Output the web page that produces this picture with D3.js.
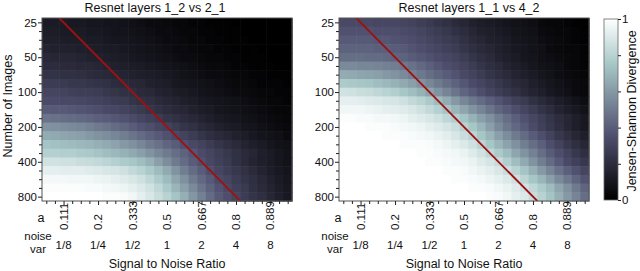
<!DOCTYPE html>
<html>
<head>
<meta charset="utf-8">
<script src="https://cdn.jsdelivr.net/npm/d3@7"></script>
<style>
  body { margin: 0; background: #fff; }
  text { font-family: "Liberation Sans", Arial, sans-serif; fill: #111; }
</style>
</head>
<body>
<svg id="chart" width="640" height="271"></svg>
<script>
// rows: number of images, columns: noise variance (quarter-octave steps)
const images = [25, 29.73, 35.36, 42.04, 50, 59.46, 70.71, 84.09, 100, 118.9, 141.4, 168.2,
                200, 237.8, 282.8, 336.4, 400, 475.7, 565.7, 672.7, 800];
const noiseVar = [0.0884, 0.1051, 0.125, 0.1487, 0.1768, 0.2102, 0.25, 0.2973, 0.3536, 0.4204,
                  0.5, 0.5946, 0.7071, 0.8409, 1, 1.189, 1.414, 1.682, 2, 2.378, 2.828, 3.364,
                  4, 4.757, 5.657, 6.727, 8, 9.514, 11.31];
const yTickVals = [25, 50, 100, 200, 400, 800];
const xTickVals = [0.125, 0.25, 0.5, 1, 2, 4, 8];
const aLabels = ["0.111", "0.2", "0.333", "0.5", "0.667", "0.8", "0.889"];
const noiseLabels = ["1/8", "1/4", "1/2", "1", "2", "4", "8"];
const titles = ["Resnet layers 1_2 vs 2_1", "Resnet layers 1_1 vs 4_2"];
// reference line end points (noise var, images)
const refLine = [[0.125, 25], [4, 800]];

// Jensen-Shannon divergence, in hundredths
const jsLeft = [
  [12,12,12,11,11,10,10,9,9,8,7,6,5,5,4,3,3,2,2,1,1,1,0,0,0,0,0,0,0],
  [13,13,12,12,12,11,11,10,9,9,8,7,6,5,5,4,3,3,2,2,1,1,1,0,0,0,0,0,0],
  [14,14,13,13,13,12,12,11,10,10,9,8,7,6,5,5,4,3,3,2,2,1,1,1,0,0,0,0,0],
  [16,15,15,15,14,14,13,12,12,11,10,9,8,7,6,5,5,4,3,3,2,2,1,1,1,0,0,0,0],
  [18,17,17,17,16,15,15,14,13,12,11,10,9,8,7,6,5,5,4,3,3,2,2,1,1,1,0,0,0],
  [20,20,19,19,18,18,17,16,15,14,13,12,11,10,9,8,7,6,5,4,4,3,2,2,1,1,1,0,0],
  [23,23,22,22,21,20,19,18,17,16,15,14,13,12,11,10,8,7,6,5,5,4,3,3,2,2,1,1,1],
  [27,27,26,25,25,24,23,22,20,19,18,17,15,14,13,11,10,9,8,7,6,5,4,4,3,2,2,2,1],
  [31,31,30,29,28,28,27,25,24,22,21,19,18,16,15,13,12,11,9,8,7,6,5,5,4,3,3,2,2],
  [34,34,33,33,32,31,30,29,27,26,24,22,21,19,17,16,14,13,11,10,9,8,7,6,5,4,3,3,2],
  [40,39,39,38,37,36,35,33,32,30,28,26,24,22,20,18,17,15,13,12,10,9,8,7,6,5,4,3,3],
  [48,47,46,45,44,43,41,40,38,36,34,31,29,27,24,22,20,18,16,14,12,11,10,8,7,6,5,4,3],
  [58,57,56,55,54,52,50,48,45,43,40,37,35,32,30,27,24,22,19,17,15,13,12,10,9,7,6,5,4],
  [66,65,64,63,62,60,58,56,54,51,48,45,42,39,36,33,30,27,24,21,19,17,15,13,11,9,8,7,5],
  [74,73,72,71,70,69,67,65,63,60,57,54,50,47,43,40,36,33,30,27,24,21,19,16,14,12,10,8,7],
  [79,79,78,78,77,76,74,72,70,68,65,62,58,54,50,46,42,38,34,31,28,25,22,19,17,14,12,10,8],
  [87,87,86,86,85,84,83,81,79,77,75,72,68,62,56,50,45,40,36,32,29,26,22,19,16,14,12,10,8],
  [93,93,92,92,92,91,90,89,88,86,83,80,76,71,65,58,51,45,40,35,31,28,25,22,19,16,13,11,9],
  [97,97,97,96,96,96,95,94,93,91,89,86,82,77,71,64,57,50,44,39,34,31,27,24,21,18,15,12,10],
  [99,99,99,99,99,98,98,97,96,95,93,90,87,82,76,69,62,55,48,42,37,33,29,26,22,19,16,13,11],
  [100,100,100,100,100,100,100,99,99,98,96,93,89,85,80,74,67,59,52,45,39,35,31,27,24,21,17,14,11]
];
const jsRight = [
  [33,33,33,33,32,32,32,31,30,28,26,24,22,19,17,15,13,12,11,9,8,7,6,4,3,3,2,1,1],
  [36,36,36,36,35,35,35,34,33,31,29,27,25,22,20,17,15,14,12,11,9,8,7,5,4,3,3,2,1],
  [39,39,39,39,38,38,37,36,35,33,31,29,27,25,22,19,17,15,14,12,10,9,8,6,5,4,3,2,1],
  [42,42,42,42,41,41,40,39,37,35,33,31,29,27,24,21,19,17,15,13,11,10,8,7,5,4,3,3,2],
  [46,46,46,45,45,44,43,42,40,38,36,34,32,30,27,24,21,19,16,14,12,10,9,7,6,5,4,3,2],
  [55,55,54,54,53,52,51,49,47,44,41,38,35,33,30,27,24,21,19,16,14,12,10,8,7,6,4,3,2],
  [66,65,64,63,62,60,58,55,52,49,46,43,40,37,33,30,27,24,21,19,16,14,12,10,8,6,5,4,3],
  [77,76,75,74,72,70,68,65,62,58,54,50,46,42,38,34,31,28,25,22,19,17,14,12,10,8,6,5,4],
  [87,86,85,84,82,80,78,75,72,68,63,58,53,48,43,39,35,31,28,25,22,19,16,14,11,9,7,5,4],
  [93,93,92,91,90,89,88,86,83,80,76,71,66,60,54,49,45,41,37,33,29,26,22,19,16,13,11,8,6],
  [96,96,96,95,94,93,92,91,89,86,83,79,74,69,64,58,53,48,43,39,35,31,27,23,20,16,13,11,8],
  [99,99,98,98,97,97,96,95,93,91,89,86,82,78,74,68,62,57,51,46,41,36,32,28,24,20,17,14,11],
  [100,100,100,99,99,99,98,97,96,95,93,91,88,85,80,75,69,62,55,49,44,39,34,29,25,21,17,14,11],
  [100,100,100,100,100,99,99,99,98,97,96,94,92,89,85,81,75,69,62,56,50,45,40,35,30,25,21,17,14],
  [100,100,100,100,100,100,100,99,99,99,98,97,95,93,90,86,81,75,69,63,57,51,46,41,35,30,25,21,17],
  [100,100,100,100,100,100,100,100,100,99,99,98,97,96,94,91,87,82,77,71,64,58,52,46,40,35,30,25,21],
  [100,100,100,100,100,100,100,100,100,100,99,99,98,97,96,94,91,88,84,78,72,65,58,51,45,39,33,29,25],
  [100,100,100,100,100,100,100,100,100,100,100,100,99,99,98,96,94,92,89,85,80,74,67,60,53,47,41,36,31],
  [100,100,100,100,100,100,100,100,100,100,100,100,100,99,99,98,97,95,93,90,86,81,75,69,62,55,49,43,37],
  [100,100,100,100,100,100,100,100,100,100,100,100,100,100,100,99,99,98,96,94,91,87,82,77,71,64,57,50,43],
  [100,100,100,100,100,100,100,100,100,100,100,100,100,100,100,100,100,99,98,96,93,90,85,80,74,67,60,53,46]
];

// matplotlib "bone"
const bone = d3.scaleLinear()
    .domain([0, 0.365079, 0.746032, 1])
    .range(["rgb(0,0,0)", "rgb(81,81,113)", "rgb(166,198,198)", "rgb(255,255,255)"]);

const svg = d3.select("#chart");
const half = Math.pow(2, 0.125);
const plotTop = 18, plotBottom = 201, plotW = 250;

const yScale = d3.scaleLog().base(2)
    .domain([images[0] / half, images[images.length - 1] * half])
    .range([plotTop, plotBottom]);

const panels = [
    { x0: 42, data: jsLeft, title: titles[0], titleX: 155 },
    { x0: 339, data: jsRight, title: titles[1], titleX: 469 }
];

panels.forEach((p, pi) => {
    const xScale = d3.scaleLog().base(2)
        .domain([noiseVar[0] / half, noiseVar[noiseVar.length - 1] * half])
        .range([p.x0, p.x0 + plotW]);

    const g = svg.append("g");

    const cells = [];
    p.data.forEach((row, ri) => row.forEach((v, ci) => cells.push({ r: ri, c: ci, v: v / 100 })));

    g.selectAll("rect.cell")
        .data(cells)
        .join("rect")
        .attr("class", "cell")
        .attr("x", d => xScale(noiseVar[d.c] / half))
        .attr("y", d => yScale(images[d.r] / half))
        .attr("width", d => xScale(noiseVar[d.c] * half) - xScale(noiseVar[d.c] / half) + 0.6)
        .attr("height", d => yScale(images[d.r] * half) - yScale(images[d.r] / half) + 0.6)
        .attr("fill", d => bone(d.v));

    // reference line, clipped to the plot
    svg.append("clipPath").attr("id", "clip" + pi)
        .append("rect")
        .attr("x", p.x0).attr("y", plotTop).attr("width", plotW).attr("height", plotBottom - plotTop);

    const n0 = images[0] / half, n1 = images[images.length - 1] * half;
    const k = refLine[0][0] / refLine[0][1];
    g.append("line")
        .attr("clip-path", `url(#clip${pi})`)
        .attr("x1", xScale(k * n0)).attr("y1", yScale(n0))
        .attr("x2", xScale(k * n1)).attr("y2", yScale(n1))
        .attr("stroke", "#a01010")
        .attr("stroke-width", 1.8);

    g.append("rect")
        .attr("x", p.x0).attr("y", plotTop)
        .attr("width", plotW).attr("height", plotBottom - plotTop)
        .attr("fill", "none")
        .attr("stroke", "#555")
        .attr("stroke-width", 1);

    // y axis
    const yAxis = g.append("g")
        .attr("transform", `translate(${p.x0},0)`)
        .call(d3.axisLeft(yScale)
            .tickValues(images)
            .tickFormat(d => yTickVals.includes(d) ? d : "")
            .tickSize(3)
            .tickSizeOuter(0));
    yAxis.select(".domain").remove();
    yAxis.selectAll(".tick line")
        .attr("x2", d => yTickVals.includes(d) ? -4 : -3)
        .attr("stroke", "#222");
    yAxis.selectAll(".tick text")
        .attr("x", -5)
        .style("font-size", "11.5px")
        .style("font-family", "'Liberation Sans', Arial, sans-serif");

    // x axis
    const xAxis = g.append("g")
        .attr("transform", `translate(0,${plotBottom})`)
        .call(d3.axisBottom(xScale)
            .tickValues(noiseVar)
            .tickFormat("")
            .tickSize(3)
            .tickSizeOuter(0));
    xAxis.select(".domain").remove();
    xAxis.selectAll(".tick line")
        .attr("y2", d => xTickVals.includes(d) ? 4 : 3)
        .attr("stroke", "#222");

    g.selectAll("text.alab")
        .data(xTickVals)
        .join("text")
        .attr("class", "alab")
        .attr("transform", d => `translate(${xScale(d)},230) rotate(-90)`)
        .attr("dy", "0.35em")
        .style("font-size", "11.5px")
        .text((d, i) => aLabels[i]);

    g.selectAll("text.nlab")
        .data(xTickVals)
        .join("text")
        .attr("class", "nlab")
        .attr("x", d => xScale(d))
        .attr("y", 249)
        .attr("text-anchor", "middle")
        .style("font-size", "11.5px")
        .text((d, i) => noiseLabels[i]);

    g.append("text")
        .attr("x", p.x0 - 1).attr("y", 222)
        .attr("text-anchor", "middle")
        .style("font-size", "12.5px")
        .text("a");

    // "noise" over "var"
    g.append("text")
        .attr("x", p.x0 - 4).attr("y", 240)
        .attr("text-anchor", "middle")
        .style("font-size", "11.5px")
        .text("noise");
    g.append("text")
        .attr("x", p.x0 - 4).attr("y", 252.5)
        .attr("text-anchor", "middle")
        .style("font-size", "11.5px")
        .text("var");

    g.append("text")
        .attr("x", p.x0 + plotW / 2).attr("y", 268)
        .attr("text-anchor", "middle")
        .style("font-size", "12.5px")
        .text("Signal to Noise Ratio");

    g.append("text")
        .attr("x", p.titleX).attr("y", 12)
        .attr("text-anchor", "middle")
        .style("font-size", "12.5px")
        .text(p.title);
});

svg.append("text")
    .attr("transform", `translate(12,106) rotate(-90)`)
    .attr("text-anchor", "middle")
    .style("font-size", "12.5px")
    .text("Number of Images");

// colour bar
const cbX = 604, cbW = 14;
const cbScale = d3.scaleLinear().domain([0, 1]).range([200, 19]);
const grad = svg.append("defs").append("linearGradient")
    .attr("id", "cbGrad")
    .attr("x1", 0).attr("y1", 1).attr("x2", 0).attr("y2", 0);
grad.selectAll("stop")
    .data(d3.range(0, 1.0001, 0.05))
    .join("stop")
    .attr("offset", d => d)
    .attr("stop-color", d => bone(d));

svg.append("rect")
    .attr("x", cbX).attr("y", cbScale(1))
    .attr("width", cbW).attr("height", cbScale(0) - cbScale(1))
    .attr("fill", "url(#cbGrad)")
    .attr("stroke", "#666")
    .attr("stroke-width", 0.8);

const cbAxis = svg.append("g")
    .attr("transform", `translate(${cbX + cbW},0)`)
    .call(d3.axisRight(cbScale)
        .tickValues([0, 0.2, 0.4, 0.6, 0.8, 1])
        .tickFormat(d => (d === 0 || d === 1) ? d : "")
        .tickSize(3)
        .tickSizeOuter(0));
cbAxis.select(".domain").remove();
cbAxis.selectAll(".tick line").attr("stroke", "#222");
cbAxis.selectAll(".tick text")
    .attr("x", 4)
    .style("font-size", "11.5px")
    .style("font-family", "'Liberation Sans', Arial, sans-serif");

svg.append("text")
    .attr("transform", `translate(636,111) rotate(-90)`)
    .attr("text-anchor", "middle")
    .style("font-size", "12.5px")
    .text("Jensen-Shannon Divergence");
</script>
</body>
</html>
